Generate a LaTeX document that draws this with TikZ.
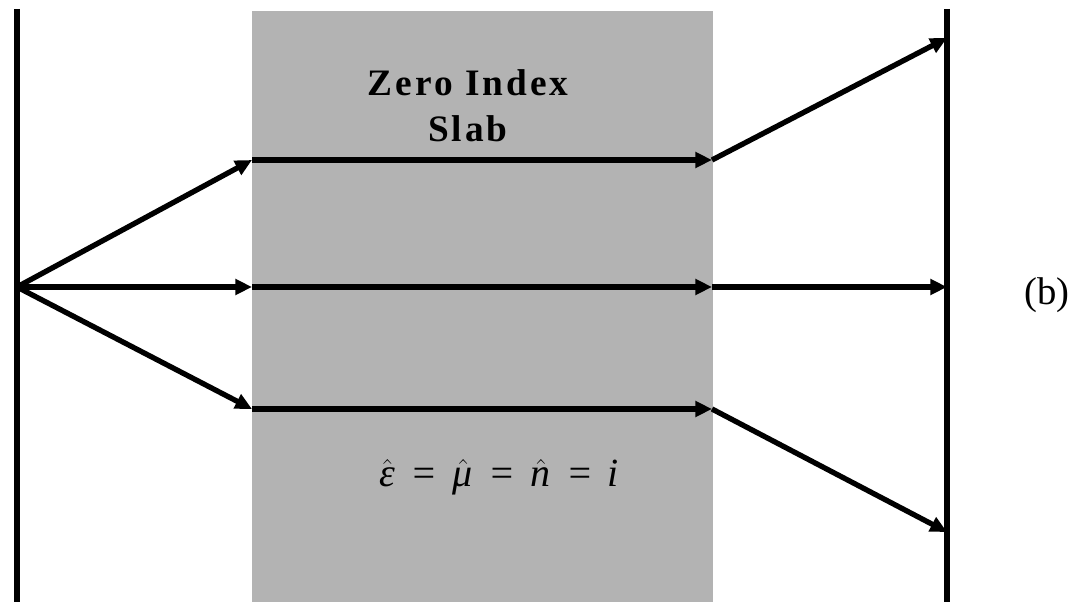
\documentclass[tikz,border=0pt]{standalone}
\usepackage{fontspec}
\setmainfont{Liberation Serif}
\usetikzlibrary{arrows.meta}
\definecolor{slabgray}{HTML}{B3B3B3}
\newcommand{\eqgap}{\hspace{11pt}}
\newcommand{\hatit}[1]{$\hat{\hbox{\itshape #1\kern1pt}}$}
\tikzset{
  wall/.style={line width=4.5pt},
  ray/.style={line width=4pt,-{Triangle[length=12.5pt,width=11.5pt]}},
  titletext/.style={font=\fontsize{28}{34}\selectfont\bfseries\addfontfeature{LetterSpace=8}, align=center},
}
\begin{document}
\begin{tikzpicture}[x=0.75pt,y=-0.75pt]
\useasboundingbox (0,0) rectangle (1083,602);
\fill[slabgray] (252,11) rectangle (713,602);
\draw[wall] (17,9) -- (17,602);
\draw[wall] (947,9) -- (947,602);
\coordinate (S) at (17,287);
\coordinate (A1) at (252,160);
\coordinate (A2) at (252,287);
\coordinate (A3) at (252,409);
\coordinate (B1) at (712,160);
\coordinate (B2) at (712,287);
\coordinate (B3) at (712,409);
\coordinate (C1) at (947,38);
\coordinate (C2) at (947,287);
\coordinate (C3) at (947,532);
\draw[ray] (S) -- (A1);
\draw[ray] (S) -- (A2);
\draw[ray] (S) -- (A3);
\draw[ray] (A1) -- (B1);
\draw[ray] (A2) -- (B2);
\draw[ray] (A3) -- (B3);
\draw[ray] (B1) -- (C1);
\draw[ray] (B2) -- (C2);
\draw[ray] (B3) -- (C3);
\node[titletext, anchor=base] (title1) at (468,96) {Zero Index};
\node[titletext, anchor=base] (title2) at (468,142) {Slab};
\node[anchor=base, font=\fontsize{30}{34}\selectfont\itshape] (eq) at (499,487) {\hatit{ε}\eqgap=\eqgap\hatit{μ}\eqgap=\eqgap\hatit{n}\eqgap=\eqgap i};
\node[font=\fontsize{29}{32}\selectfont] (lab) at (1047,295) {(b)};
\end{tikzpicture}
\end{document}
